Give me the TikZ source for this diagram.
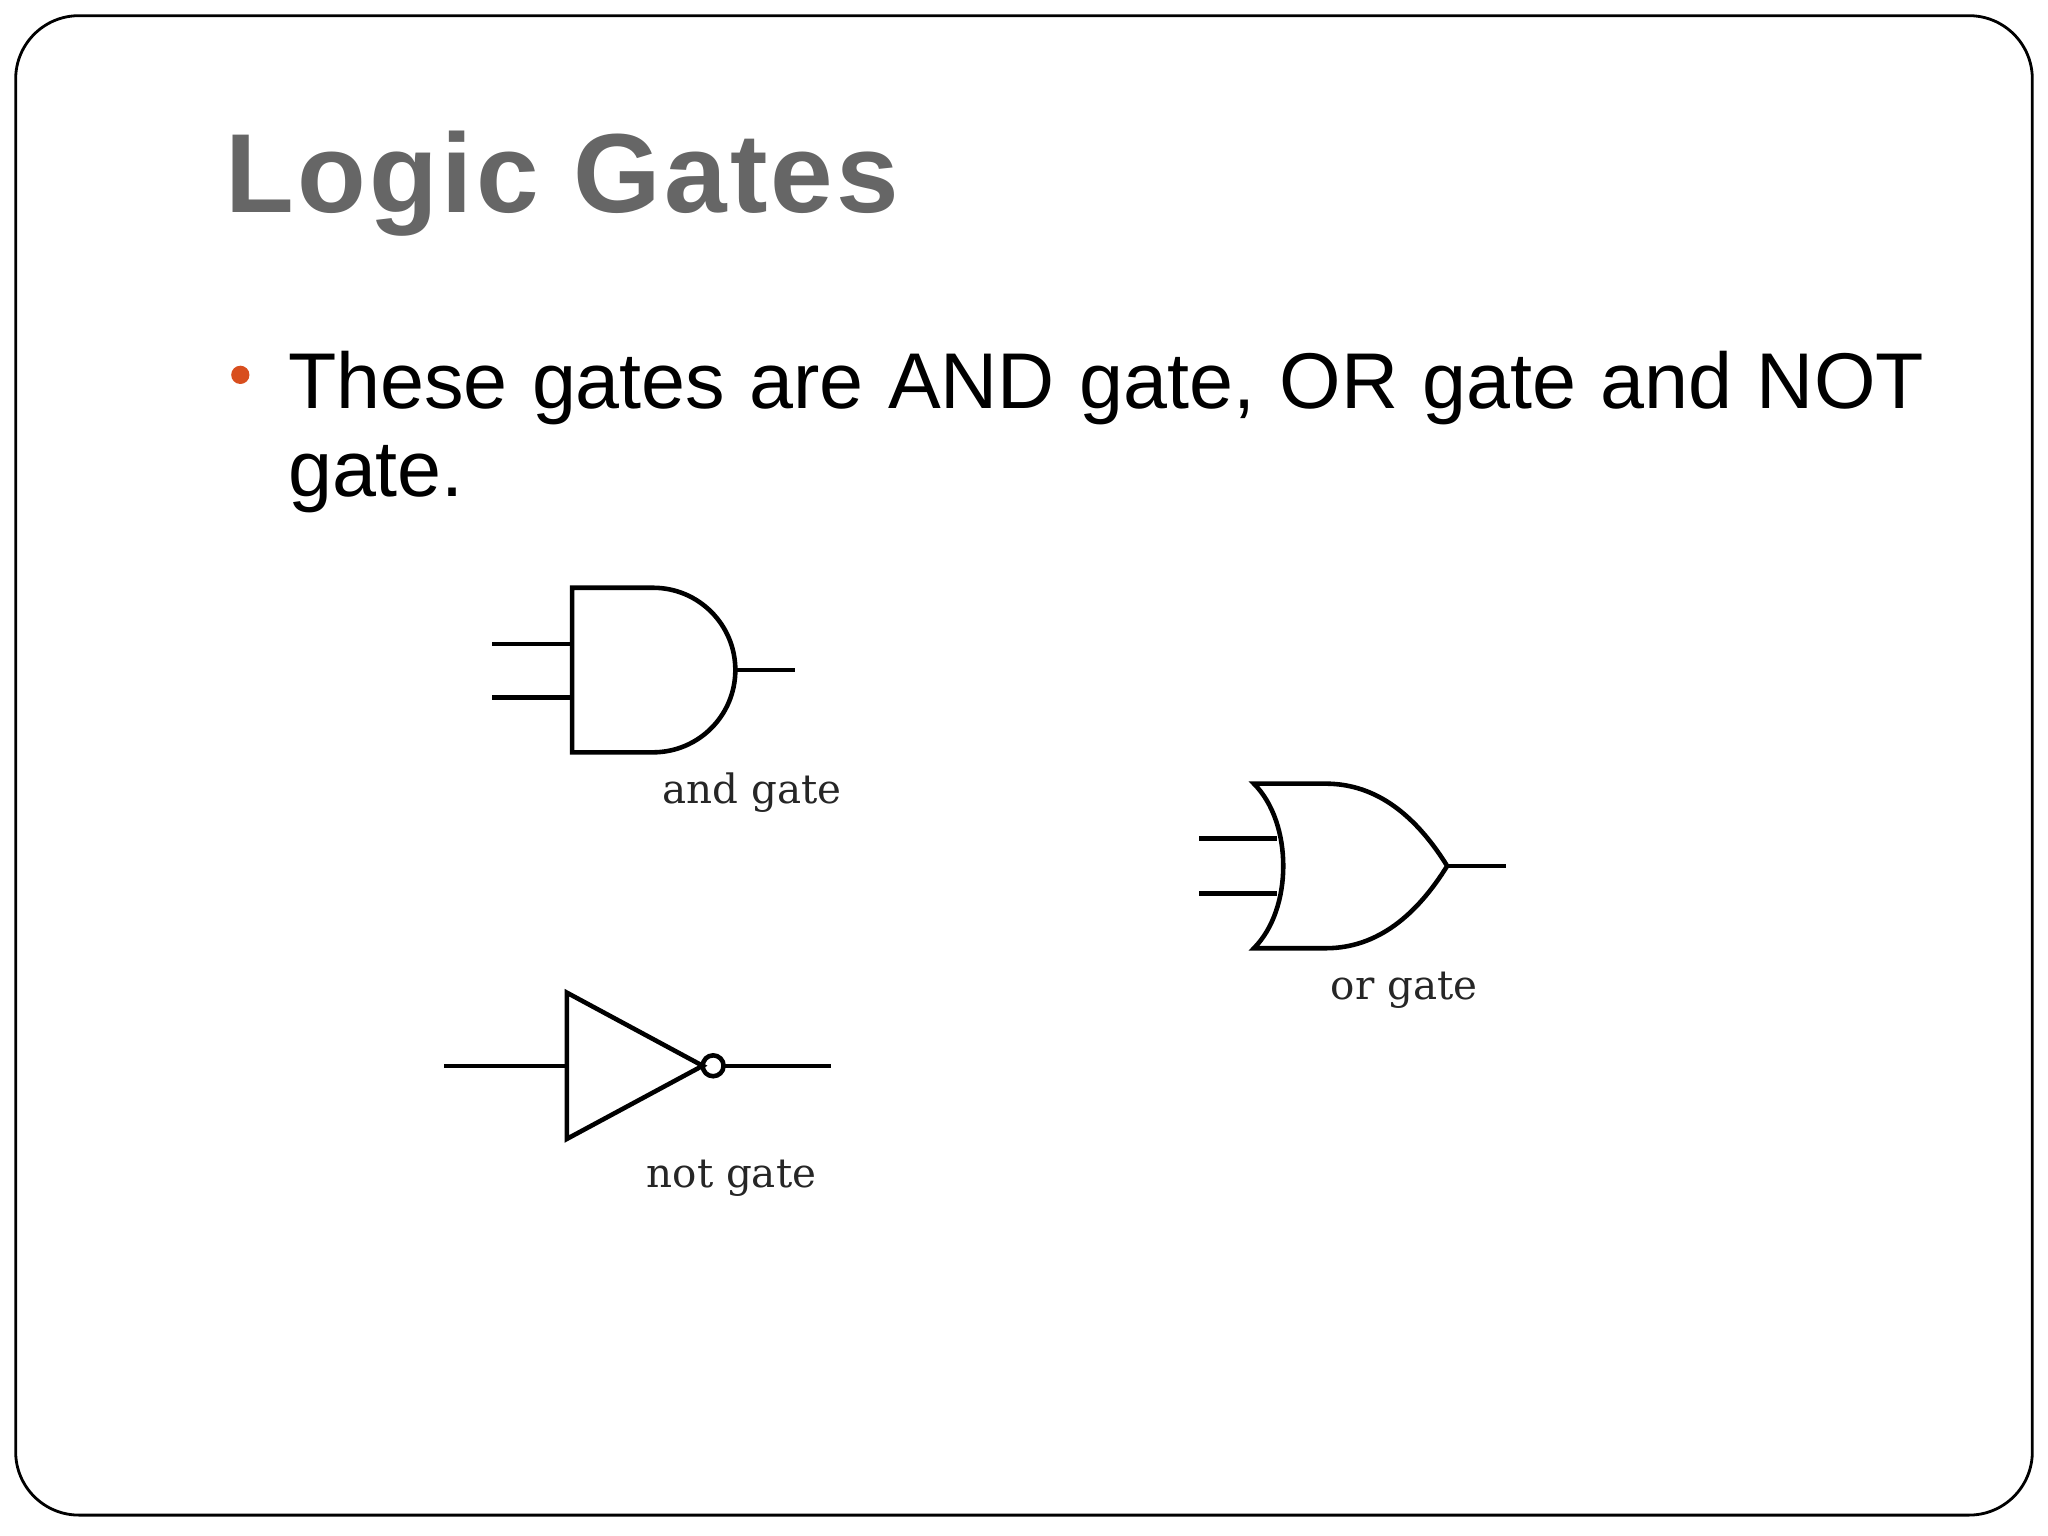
\documentclass[tikz,border=0pt]{standalone}
\usepackage{fontspec}
\setmainfont{Liberation Serif}
\setsansfont{Liberation Sans}
\newfontfamily\lblfont{DejaVu Serif}
\definecolor{bulc}{HTML}{D84E1E}
\begin{document}
\begin{tikzpicture}[x=0.013061cm,y=-0.013061cm,
  wire/.style={line width=1.3pt},
  lbl/.style={font=\fontsize{11.5}{13}\lblfont, text=black!85}]
\useasboundingbox (0,0) rectangle (1568,1176);
\draw[line width=0.8pt, rounded corners=18pt] (12,12) rectangle (1556,1160);
\node[anchor=base west, inner sep=0, text=black!60, font=\fontsize{32}{38}\selectfont\sffamily\bfseries\addfontfeatures{LetterSpace=3}] (title) at (172,163) {Logic Gates};
\fill[bulc] (184,287) circle (7) coordinate (bul);
\node[anchor=base west, inner sep=0, font=\fontsize{22.5}{25}\selectfont\sffamily, text width=16.36cm, align=justify] (txt) at (220,313) {These gates are AND gate, OR gate and NOT gate.};
% AND
\draw[wire] (377,493) -- (438,493) coordinate (a1);
\draw[wire] (377,534) -- (438,534) coordinate (a2);
\draw[wire] (438,450) -- (500,450) arc (-90:90:63) -- (438,576) -- cycle;
\draw[wire] (563,513) coordinate (ao) -- (609,513);
\node[lbl] (andl) at (576,607) {and gate};
% OR
\draw[wire] (918,642) -- (978,642) coordinate (o1);
\draw[wire] (918,684) -- (978,684) coordinate (o2);
\draw[wire] (960,600) .. controls (990,630) and (990,696) .. (960,726)
  -- (1015,726) .. controls (1055,726) and (1085,700) .. (1108,663)
  .. controls (1085,626) and (1055,600) .. (1015,600) -- cycle;
\draw[wire] (1108,663) coordinate (oo) -- (1153,663);
\node[lbl] (orl) at (1075,758) {or gate};
% NOT
\draw[wire] (340,816) -- (434,816) coordinate (n1);
\draw[wire] (434,760) -- (538,816) -- (434,872) -- cycle;
\draw[wire] (546,816) circle (8);
\draw[wire] (554,816) coordinate (no) -- (636,816);
\node[lbl] (notl) at (560,902) {not gate};
\end{tikzpicture}
\end{document}
